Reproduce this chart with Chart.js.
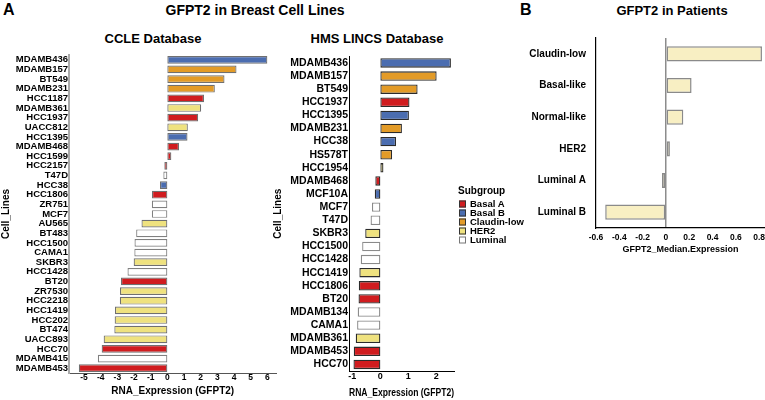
<!DOCTYPE html>
<html><head><meta charset="utf-8">
<script src="https://cdn.jsdelivr.net/npm/chart.js@4/dist/chart.umd.min.js"></script>
<style>
html,body{margin:0;padding:0;background:#fff;overflow:hidden;width:765px;height:400px;}
body{position:relative;font-family:"Liberation Sans",Arial,sans-serif;font-weight:bold;color:#000;}
.t{position:absolute;white-space:nowrap;line-height:1;transform:translate(-50%,-50%);}
.l{position:absolute;white-space:nowrap;line-height:1;transform:translate(0,-50%);}
canvas{position:absolute;}
.box{position:absolute;width:5px;height:5px;border:1px solid #333;transform:translate(0,-50%);}
</style></head><body>

<div class="l" style="left:3px;top:10px;font-size:16px;">A</div>
<div class="t" style="left:255px;top:10px;font-size:14px;">GFPT2 in Breast Cell Lines</div>
<div class="l" style="left:520px;top:10px;font-size:16px;">B</div>
<div class="t" style="left:672px;top:10px;font-size:13px;">GFPT2 in Patients</div>
<div class="t" style="left:153px;top:38px;font-size:13px;">CCLE Database</div>
<div class="t" style="left:377px;top:38px;font-size:13px;">HMS LINCS Database</div>

<canvas id="c1" width="280" height="400" style="left:0;top:0;"></canvas>
<canvas id="c2" width="190" height="400" style="left:270px;top:0;"></canvas>
<canvas id="c3" width="260" height="262" style="left:520px;top:0;"></canvas>
<div id="legend"></div>

<script>
// ---- data ----
const groupNames = ['Basal A', 'Basal B', 'Claudin-low', 'HER2', 'Luminal'];
const groupColors = ['#d01c1f', '#4b6db0', '#e39b27', '#efe27f', '#ffffff'];

const ccleLines = ['MDAMB436','MDAMB157','BT549','MDAMB231','HCC1187','MDAMB361','HCC1937','UACC812','HCC1395','MDAMB468','HCC1599','HCC2157','T47D','HCC38','HCC1806','ZR751','MCF7','AU565','BT483','HCC1500','CAMA1','SKBR3','HCC1428','BT20','ZR7530','HCC2218','HCC1419','HCC202','BT474','UACC893','HCC70','MDAMB415','MDAMB453'];
const ccleValues = [6.0, 4.15, 3.43, 2.85, 2.2, 2.03, 1.85, 1.23, 1.21, 0.7, 0.24, -0.18, -0.24, -0.44, -0.92, -0.93, -0.93, -1.55, -1.87, -1.97, -1.98, -2.02, -2.39, -2.78, -2.84, -2.85, -3.14, -3.16, -3.18, -3.82, -3.94, -4.17, -5.31];
const ccleGroups = ['Basal B','Claudin-low','Claudin-low','Claudin-low','Basal A','HER2','Basal A','HER2','Basal B','Basal A','Basal A','Basal A','Luminal','Basal B','Basal A','Luminal','Luminal','HER2','Luminal','Luminal','Luminal','HER2','Luminal','Basal A','HER2','HER2','HER2','HER2','HER2','HER2','Basal A','Luminal','Basal A'];

const hmsLines = ['MDAMB436','MDAMB157','BT549','HCC1937','HCC1395','MDAMB231','HCC38','HS578T','HCC1954','MDAMB468','MCF10A','MCF7','T47D','SKBR3','HCC1500','HCC1428','HCC1419','HCC1806','BT20','MDAMB134','CAMA1','MDAMB361','MDAMB453','HCC70'];
const hmsValues = [2.52, 2.01, 1.33, 1.04, 1.02, 0.77, 0.56, 0.42, 0.11, -0.18, -0.2, -0.3, -0.35, -0.54, -0.65, -0.7, -0.75, -0.77, -0.78, -0.81, -0.83, -0.88, -0.95, -0.96];
const hmsGroups = ['Basal B','Claudin-low','Claudin-low','Basal A','Basal B','Claudin-low','Basal B','Claudin-low','HER2','Basal A','Basal B','Luminal','Luminal','HER2','Luminal','Luminal','HER2','Basal A','Basal A','Luminal','Luminal','HER2','Basal A','Basal A'];

const patientSubtypes = ['Claudin-low','Basal-like','Normal-like','HER2','Luminal A','Luminal B'];
const patientValues = [0.824, 0.22, 0.149, 0.034, -0.034, -0.521];

const ccleTickStep = 1, hmsTickStep = 1, patientTickStep = 0.2;

// ---- helpers ----
const FONT = "'Liberation Sans', Arial, sans-serif";
Chart.defaults.font.family = FONT;
Chart.defaults.font.weight = 'bold';
Chart.defaults.color = '#000';
const colorOf = g => groupColors[groupNames.indexOf(g)];

function cellChart(id, labels, values, groups, o) {
  return new Chart(document.getElementById(id), {
    type: 'bar',
    data: { labels, datasets: [{
      data: values,
      backgroundColor: groups.map(colorOf),
      borderColor: groups.map(g => g === 'Luminal' ? o.lumBorder : o.border),
      borderWidth: o.bw, borderSkipped: false,
      categoryPercentage: o.cat, barPercentage: 1
    }]},
    options: {
      indexAxis: 'y', responsive: false, animation: false,
      devicePixelRatio: 1,
      layout: { padding: { top: o.top, right: o.right, left: 0, bottom: 0 } },
      plugins: { legend: { display: false }, tooltip: { enabled: false } },
      scales: {
        x: {
          min: o.min, max: o.max,
          ticks: { stepSize: o.step, includeBounds: false, autoSkip: false, padding: 0, color: '#000', font: { size: o.xtick, weight: 'bold' } },
          grid: { display: false, drawTicks: false },
          border: { color: o.xAxisColor, width: 1 },
          title: { display: true, text: 'RNA_Expression (GFPT2)', color: '#000', font: { size: 10, weight: 'bold' }, padding: { top: 0, bottom: o.titleBottom } },
          afterFit(s) { s.height = o.xh; }
        },
        y: {
          ticks: { autoSkip: false, padding: 1, color: '#000', font: { size: o.ytick, weight: 'bold' } },
          grid: { display: false, drawTicks: false },
          border: { color: o.yAxisColor, width: o.yAxisWidth },
          title: { display: true, text: 'Cell_Lines', color: '#000', font: { size: 10, weight: 'bold' }, padding: { top: o.ytitlePad, bottom: 0 } },
          afterFit(s) { s.width = o.yw; }
        }
      }
    }
  });
}

cellChart('c1', ccleLines, ccleValues, ccleGroups, {
  border: '#707070', lumBorder: '#808080', bw: 1.2, cat: 0.8,
  top: 55, right: 3.5, min: -5.9, max: 6.55, step: ccleTickStep,
  xtick: 8.5, ytick: 9.5, xAxisColor: '#555', yAxisColor: '#aaa', yAxisWidth: 2,
  titleBottom: 3, xh: 27, yw: 69, ytitlePad: 0
});

cellChart('c2', hmsLines, hmsValues, hmsGroups, {
  border: '#2b2b2b', lumBorder: '#8a8a8a', bw: 1.3, cat: 0.72,
  top: 56.4, right: 6, min: -1.12, max: 2.63, step: hmsTickStep,
  xtick: 9, ytick: 10.5, xAxisColor: '#000', yAxisColor: '#000', yAxisWidth: 1,
  titleBottom: 1, xh: 29, yw: 79, ytitlePad: 2
});

new Chart(document.getElementById('c3'), {
  type: 'bar',
  data: { labels: patientSubtypes, datasets: [{
    data: patientValues, backgroundColor: '#f8efc3', borderColor: '#8a8a8a',
    borderWidth: 1.5, borderSkipped: false, categoryPercentage: 0.48, barPercentage: 1
  }]},
  options: {
    indexAxis: 'y', responsive: false, animation: false, devicePixelRatio: 1,
    layout: { padding: { top: 38, right: 15, left: 0, bottom: 0 } },
    plugins: { legend: { display: false }, tooltip: { enabled: false } },
    scales: {
      x: {
        min: -0.6001, max: 0.85,
        ticks: { stepSize: patientTickStep, includeBounds: false, autoSkip: false, padding: 5, color: '#000',
                 font: { size: 8.5, weight: 'bold' }, callback: v => String(+v.toFixed(1)) },
        grid: { display: true, drawTicks: false, lineWidth: 1.5,
                color: c => (c.tick && Math.abs(c.tick.value) < 1e-9) ? '#8c8c8c' : 'rgba(0,0,0,0)' },
        border: { color: '#000', width: 1.2 },
        title: { display: true, text: 'GFPT2_Median.Expression', color: '#000', font: { size: 9, weight: 'bold' }, padding: { top: 0, bottom: 6.6 } },
        afterFit(s) { s.height = 34; }
      },
      y: {
        ticks: { autoSkip: false, padding: 10, color: '#000', font: { size: 10, weight: 'bold' } },
        grid: { display: false, drawTicks: false },
        border: { color: '#000', width: 1.2 },
        afterFit(s) { s.width = 76; }
      }
    }
  }
});

// ---- legend (HTML) ----
const leg = document.getElementById('legend');
let html = '<div class="l" style="left:458px;top:191px;font-size:10px;">Subgroup</div>';
groupNames.forEach((g, i) => {
  const y = 203.5 + i * 9;
  const bc = g === 'Luminal' ? '#777' : '#333';
  html += `<div class="box" style="left:459px;top:${y}px;background:${groupColors[i]};border-color:${bc};"></div>`;
  html += `<div class="l" style="left:470px;top:${y}px;font-size:9.5px;">${g}</div>`;
});
leg.innerHTML = html;
</script>
</body></html>
